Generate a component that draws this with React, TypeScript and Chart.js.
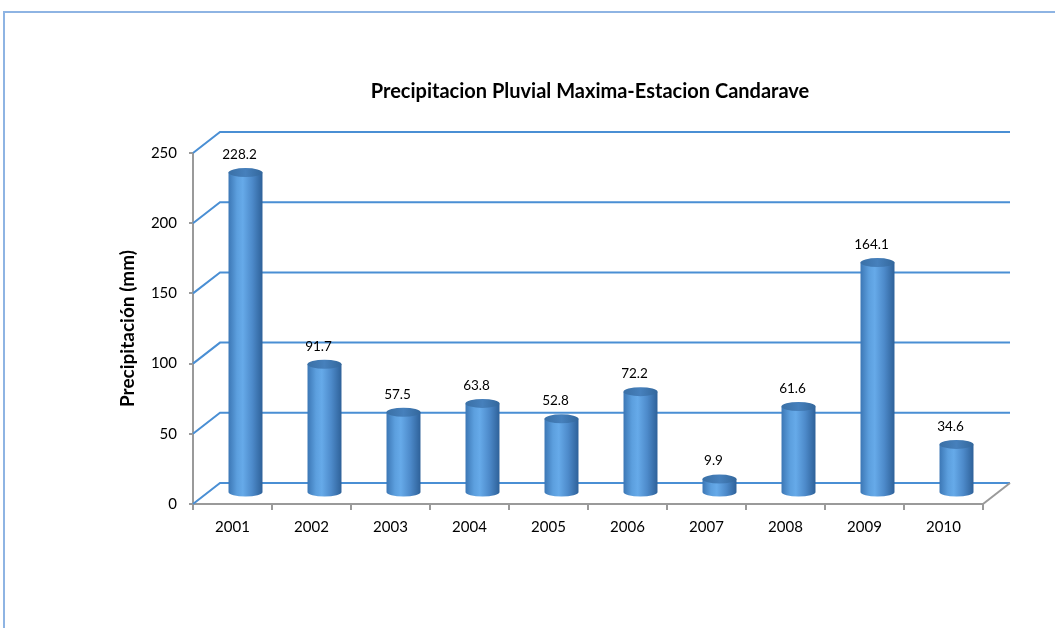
import React, { useEffect, useRef } from "react";
import { Chart, registerables } from "chart.js";

Chart.register(...registerables);

const years = ["2001", "2002", "2003", "2004", "2005", "2006", "2007", "2008", "2009", "2010"];
const precipitation = [228.2, 91.7, 57.5, 63.8, 52.8, 72.2, 9.9, 61.6, 164.1, 34.6];
const yTicks = [0, 50, 100, 150, 200, 250];
const chartTitle = "Precipitacion Pluvial Maxima-Estacion Candarave";
const yTitle = "Precipitación (mm)";

const FONT = "Lato, 'Liberation Sans', sans-serif";
const BAR_DX = 13;
const BAR_DY = -11;
const WALL_DX = 27;
const WALL_DY = -21;
const GRID_BLUE = "#4A8FD4";
const AXIS_GRAY = "#9a9a9a";
const BAR_FRACTION = 0.43;

const titlePlugin = {
  id: "offsetTitle",
  afterDraw(chart: any) {
    const { ctx } = chart;
    ctx.save();
    ctx.fillStyle = "#000";
    ctx.font = `bold 20px ${FONT}`;
    ctx.textAlign = "center";
    ctx.textBaseline = "middle";
    ctx.fillText(chartTitle, 590, 92);
    ctx.restore();
  },
};

const cylinderPlugin = {
  id: "cylinder3d",
  beforeDatasetsDraw(chart: any) {
    const { ctx, chartArea, scales } = chart;
    const ys = scales.y;
    ctx.save();
    ctx.lineWidth = 2;
    ctx.strokeStyle = GRID_BLUE;
    yTicks.forEach((v) => {
      const y = ys.getPixelForValue(v);
      ctx.beginPath();
      ctx.moveTo(chartArea.left, y);
      ctx.lineTo(chartArea.left + WALL_DX, y + WALL_DY);
      ctx.lineTo(chartArea.right + WALL_DX, y + WALL_DY);
      ctx.stroke();
    });
    const y0 = ys.getPixelForValue(0);
    ctx.strokeStyle = AXIS_GRAY;
    ctx.beginPath();
    ctx.moveTo(chartArea.right, y0);
    ctx.lineTo(chartArea.right + WALL_DX, y0 + WALL_DY);
    ctx.stroke();
    ctx.restore();

    ctx.save();
    ctx.translate(BAR_DX, BAR_DY);
  },
  afterDatasetsDraw(chart: any) {
    const { ctx } = chart;
    const meta = chart.getDatasetMeta(0);
    meta.data.forEach((el: any, i: number) => {
      const { x, y, base, width } = el.getProps(["x", "y", "base", "width"], true);
      const rx = width / 2;
      const ry = 4.5;
      ctx.beginPath();
      ctx.ellipse(x, base, rx, ry, 0, 0, Math.PI);
      ctx.closePath();
      ctx.fillStyle = el.options.backgroundColor;
      ctx.fill();
      const g = ctx.createLinearGradient(x - rx, 0, x + rx, 0);
      g.addColorStop(0, "#3A70A6");
      g.addColorStop(0.5, "#4680BC");
      g.addColorStop(1, "#33679C");
      ctx.beginPath();
      ctx.ellipse(x, y, rx, ry, 0, 0, Math.PI * 2);
      ctx.fillStyle = g;
      ctx.fill();
      ctx.fillStyle = "#000";
      ctx.font = `13.5px ${FONT}`;
      ctx.textAlign = "center";
      ctx.textBaseline = "middle";
      ctx.fillText(String(precipitation[i]), x - 6, y - 18);
    });
    ctx.restore();
  },
};

export default function App() {
  const canvasRef = useRef<HTMLCanvasElement | null>(null);

  useEffect(() => {
    const canvas = canvasRef.current;
    if (!canvas) return;
    const chart = new Chart(canvas, {
      type: "bar",
      data: {
        labels: years,
        datasets: [
          {
            data: precipitation,
            borderWidth: 0,
            barPercentage: 1,
            categoryPercentage: BAR_FRACTION,
            backgroundColor: (c: any) => {
              const ch = c.chart;
              const xs = ch.scales && ch.scales.x;
              if (!xs || c.type !== "data" || !isFinite(xs.width)) return "#4F8FD0";
              const cx = xs.getPixelForValue(c.dataIndex);
              const w = (xs.width / years.length) * BAR_FRACTION;
              const g = ch.ctx.createLinearGradient(cx - w / 2, 0, cx + w / 2, 0);
              g.addColorStop(0, "#3C77B5");
              g.addColorStop(0.25, "#5C9FDE");
              g.addColorStop(0.42, "#66AAE9");
              g.addColorStop(0.7, "#4D8ACA");
              g.addColorStop(1, "#2E6199");
              return g;
            },
          },
        ],
      },
      options: {
        responsive: false,
        animation: false,
        devicePixelRatio: 1,
        layout: { padding: { left: 112, right: 72, top: 153, bottom: 0 } },
        plugins: {
          legend: { display: false },
          tooltip: { enabled: false },
          title: { display: false },
        },
        scales: {
          x: {
            type: "category",
            offset: true,
            grid: { drawOnChartArea: false, tickLength: 6, color: AXIS_GRAY, lineWidth: 2 },
            border: { display: true, color: AXIS_GRAY, width: 2 },
            ticks: { color: "#000", font: { family: FONT, size: 15 }, padding: 8, maxRotation: 0 },
            afterFit: (s: any) => {
              s.height = 124;
            },
          },
          y: {
            min: 0,
            max: 250,
            ticks: { stepSize: 50, color: "#000", font: { family: FONT, size: 15 }, padding: 12 },
            grid: { drawOnChartArea: false, tickLength: 4, color: AXIS_GRAY, lineWidth: 2 },
            border: { display: true, color: AXIS_GRAY, width: 2 },
            title: {
              display: true,
              text: yTitle,
              color: "#000",
              font: { family: FONT, size: 19, weight: "bold", lineHeight: 1.2 },
              padding: { top: 4, bottom: 0 },
            },
            afterFit: (s: any) => {
              s.width = 81;
            },
          },
        },
      } as any,
      plugins: [cylinderPlugin, titlePlugin],
    });
    return () => chart.destroy();
  }, []);

  return (
    <div style={{ position: "absolute", left: 0, top: 0, width: 1055, height: 628, background: "#fff", overflow: "hidden" }}>
      <div
        style={{
          position: "absolute",
          left: 3,
          top: 11,
          width: 1100,
          height: 700,
          borderTop: "2px solid #8EB4E3",
          borderLeft: "2px solid #8EB4E3",
        }}
      />
      <canvas ref={canvasRef} width={1055} height={628} style={{ position: "absolute", left: 0, top: 0, width: 1055, height: 628 }} />
    </div>
  );
}
